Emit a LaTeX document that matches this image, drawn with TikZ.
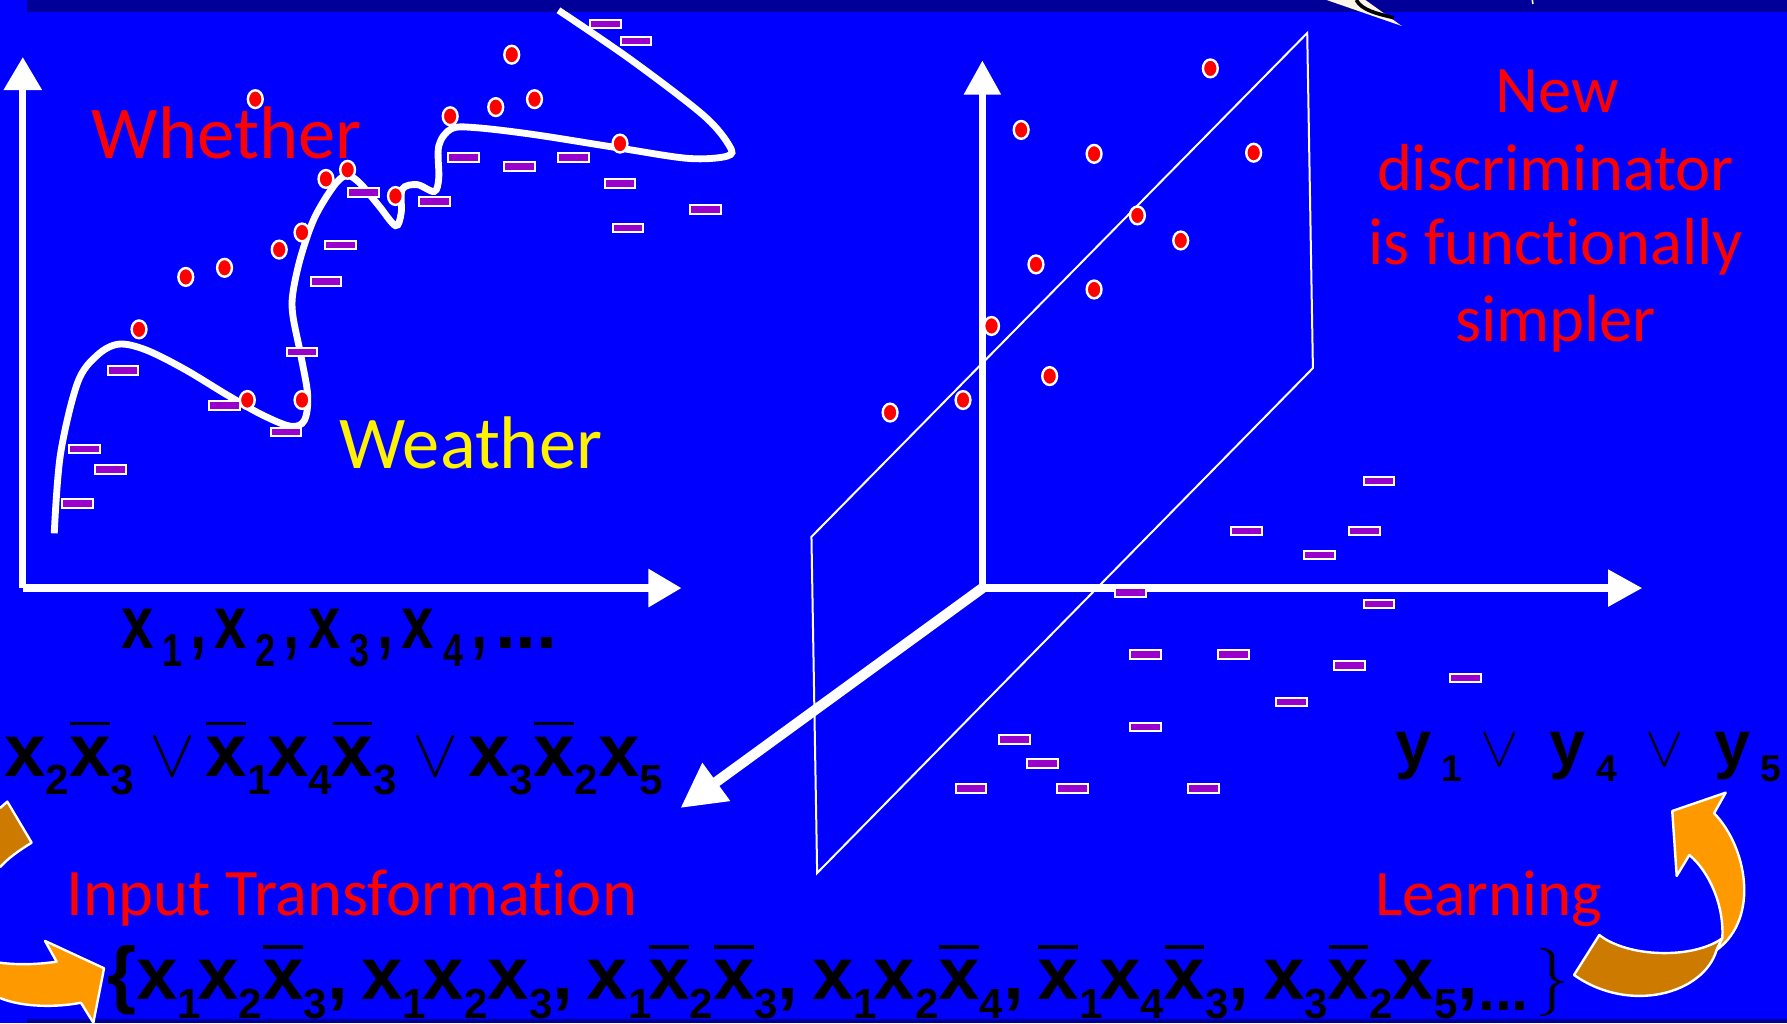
\documentclass[tikz,border=0pt]{standalone}
\usepackage{fontspec}
\usetikzlibrary{arrows.meta}

\newfontfamily\handfont[Ligatures=NoCommon]{Carlito}
\newfontfamily\formfont{Liberation Sans}
\newfontfamily\narrowfont[FakeStretch=0.78]{Liberation Sans}

\definecolor{bgblue}{HTML}{0000FF}
\definecolor{bandnavy}{HTML}{000099}
\definecolor{dotred}{HTML}{FF0000}
\definecolor{boxviolet}{HTML}{9900CC}
\definecolor{orangelight}{HTML}{FF9900}
\definecolor{orangedark}{HTML}{CC7A00}
\definecolor{quillcream}{HTML}{FDF5E6}

% literals: x_i, negated x_i, separators
\newcommand{\subsz}{\fontsize{10.5}{11}\selectfont}
\newcommand{\xs}[1]{x\lower0.165cm\hbox{\subsz #1}\ifnum#1=1 \kern-0.03cm\fi}
\newcommand{\xb}[1]{\rlap{\kern0.005cm\raisebox{0.446cm}{\rule{0.35cm}{0.029cm}}}\xs{#1}}
\newcommand{\xn}[1]{x\kern0.08cm\lower0.16cm\hbox{\fontsize{11.5}{12}\selectfont#1}\kern0.07cm,\kern0.07cm}
\newcommand{\ys}[1]{y\kern0.09cm\lower0.134cm\hbox{\fontsize{9.3}{10}\selectfont#1}}
\newcommand{\orsym}{\kern0.134cm{\fontsize{17.28}{18}\selectfont$\vee$}\kern0.09cm}
\newcommand{\ysym}{{\fontsize{14.4}{15}\selectfont$\vee$}}

\begin{document}
\begin{tikzpicture}[
  x=1cm,
  y=-1cm,
  axis/.style={draw=white,line width=0.065cm,-{Triangle[length=0.29cm,width=0.32cm]}},
  depthaxis/.style={draw=white,line width=0.09cm,-{Triangle[length=0.39cm,width=0.39cm]}},
  plane/.style={draw=white,line width=0.5pt},
  boundary/.style={draw=white,line width=0.06cm},
  posdot/.style={fill=dotred,draw=white,line width=0.6pt,x radius=0.065cm,y radius=0.078cm},
  negbox/.style={fill=boxviolet,draw=white,line width=0.5pt},
  ribbon/.style={draw=white,line width=0.6pt,line join=round},
  handlabel/.style={font=\handfont\fontsize{16.6}{19}\selectfont,text=red,inner sep=0},
  biglabel/.style={font=\handfont\fontsize{18.6}{21}\selectfont,inner sep=0},
  formula/.style={font=\formfont\bfseries\fontsize{18.6}{20}\selectfont,text=black,inner sep=0}
]
\useasboundingbox (0,0) rectangle (15.68,8.98);

% Slide background
\fill[bgblue] (0,0) rectangle (15.68,8.98);
\fill[bandnavy] (0.24,0) rectangle (15.68,0.105);
\fill[bandnavy] (0.24,8.944) rectangle (15.68,8.98);
\fill[quillcream] (11.64,0) -- (12.30,0.228) -- (11.98,0) -- cycle;
\draw[black,line width=0.9pt] (11.90,0) .. controls (11.95,0.09) and (12.08,0.12) .. (12.23,0.155);
\draw[white,line width=0.4pt] (13.445,0) -- (13.45,0.035);

% Original space: axes
\coordinate (origA) at (0.20,5.16);
\coordinate (yTipA) at (0.20,0.50);
\coordinate (xTipA) at (5.98,5.16);
\draw[axis] (origA) -- (yTipA);
\draw[axis] (origA) -- (xTipA);

% Discriminator in the original space
\draw[boundary,smooth,tension=0.55] plot coordinates {
  (0.476,4.68) (0.53,3.99) (0.68,3.36) (0.85,3.12) (1.04,3.02) (1.28,3.07)
  (1.62,3.24) (2.00,3.47) (2.30,3.64) (2.55,3.74) (2.67,3.69) (2.70,3.47)
  (2.64,3.12) (2.57,2.77) (2.57,2.57) (2.64,2.25) (2.76,1.91) (2.93,1.63)
  (3.04,1.54) (3.15,1.60) (3.32,1.80) (3.47,1.98) (3.52,1.87) (3.53,1.66)
  (3.66,1.62) (3.81,1.68) (3.85,1.56) (3.85,1.28) (3.96,1.13) (4.17,1.12)
  (4.68,1.18) (5.44,1.30) (6.04,1.39) (6.38,1.37) (6.40,1.28) (6.17,1.01)
  (5.53,0.52) (4.90,0.09)};

% Negative examples, original space
\draw[negbox] (5.31,0.21) +(-0.135,-0.038) rectangle +(0.135,0.038);
\draw[negbox] (5.58,0.36) +(-0.135,-0.038) rectangle +(0.135,0.038);
\draw[negbox] (4.07,1.38) +(-0.135,-0.038) rectangle +(0.135,0.038);
\draw[negbox] (4.56,1.46) +(-0.135,-0.038) rectangle +(0.135,0.038);
\draw[negbox] (5.03,1.38) +(-0.135,-0.038) rectangle +(0.135,0.038);
\draw[negbox] (5.44,1.61) +(-0.135,-0.038) rectangle +(0.135,0.038);
\draw[negbox] (6.19,1.84) +(-0.135,-0.038) rectangle +(0.135,0.038);
\draw[negbox] (5.51,2.00) +(-0.135,-0.038) rectangle +(0.135,0.038);
\draw[negbox] (3.19,1.69) +(-0.135,-0.038) rectangle +(0.135,0.038);
\draw[negbox] (3.81,1.77) +(-0.135,-0.038) rectangle +(0.135,0.038);
\draw[negbox] (2.99,2.15) +(-0.135,-0.038) rectangle +(0.135,0.038);
\draw[negbox] (2.86,2.47) +(-0.135,-0.038) rectangle +(0.135,0.038);
\draw[negbox] (2.65,3.09) +(-0.135,-0.038) rectangle +(0.135,0.038);
\draw[negbox] (1.08,3.25) +(-0.135,-0.038) rectangle +(0.135,0.038);
\draw[negbox] (1.97,3.56) +(-0.135,-0.038) rectangle +(0.135,0.038);
\draw[negbox] (2.51,3.79) +(-0.135,-0.038) rectangle +(0.135,0.038);
\draw[negbox] (0.74,3.94) +(-0.135,-0.038) rectangle +(0.135,0.038);
\draw[negbox] (0.97,4.12) +(-0.135,-0.038) rectangle +(0.135,0.038);
\draw[negbox] (0.68,4.42) +(-0.135,-0.038) rectangle +(0.135,0.038);

% Labels, original space
\node[biglabel,text=red,anchor=base west] (whether) at (0.80,1.387) {Whether};
\node[biglabel,text=yellow,anchor=base west] (weather) at (2.97,4.11) {Weather};

% Positive examples, original space
\path[posdot] (2.24,0.87) ellipse[];
\path[posdot] (4.49,0.48) ellipse[];
\path[posdot] (4.35,0.94) ellipse[];
\path[posdot] (4.69,0.87) ellipse[];
\path[posdot] (3.95,1.02) ellipse[];
\path[posdot] (5.44,1.26) ellipse[];
\path[posdot] (2.86,1.57) ellipse[];
\path[posdot] (3.05,1.49) ellipse[];
\path[posdot] (3.47,1.72) ellipse[];
\path[posdot] (2.65,2.04) ellipse[];
\path[posdot] (2.45,2.19) ellipse[];
\path[posdot] (1.97,2.35) ellipse[];
\path[posdot] (1.63,2.43) ellipse[];
\path[posdot] (1.22,2.89) ellipse[];
\path[posdot] (2.17,3.51) ellipse[];
\path[posdot] (2.65,3.51) ellipse[];

% New feature space: plane and axes
\draw[plane] (7.12,4.71) -- (11.47,0.29) -- (11.52,3.23) -- (7.17,7.66) -- cycle;
\coordinate (origB) at (8.62,5.16);
\coordinate (yTipB) at (8.62,0.53);
\coordinate (xTipB) at (14.41,5.16);
\coordinate (zTipB) at (5.97,7.09);
\draw[axis,-{Triangle[length=0.30cm,width=0.31cm]}] (origB) -- (yTipB);
\draw[axis,-{Triangle[length=0.30cm,width=0.31cm]}] (origB) -- (xTipB);
\draw[depthaxis] (origB) -- (zTipB);

% Positive examples, new space
\path[posdot] (10.62,0.60) ellipse[];
\path[posdot] (8.96,1.14) ellipse[];
\path[posdot] (9.60,1.35) ellipse[];
\path[posdot] (11.00,1.34) ellipse[];
\path[posdot] (9.98,1.89) ellipse[];
\path[posdot] (10.36,2.11) ellipse[];
\path[posdot] (9.09,2.32) ellipse[];
\path[posdot] (9.60,2.54) ellipse[];
\path[posdot] (8.70,2.86) ellipse[];
\path[posdot] (9.21,3.30) ellipse[];
\path[posdot] (8.45,3.51) ellipse[];
\path[posdot] (7.81,3.62) ellipse[];

% Negative examples, new space
\draw[negbox] (12.10,4.22) +(-0.135,-0.038) rectangle +(0.135,0.038);
\draw[negbox] (10.94,4.66) +(-0.135,-0.038) rectangle +(0.135,0.038);
\draw[negbox] (11.58,4.87) +(-0.135,-0.038) rectangle +(0.135,0.038);
\draw[negbox] (11.97,4.66) +(-0.135,-0.038) rectangle +(0.135,0.038);
\draw[negbox] (9.92,5.20) +(-0.135,-0.038) rectangle +(0.135,0.038);
\draw[negbox] (12.10,5.30) +(-0.135,-0.038) rectangle +(0.135,0.038);
\draw[negbox] (10.05,5.74) +(-0.135,-0.038) rectangle +(0.135,0.038);
\draw[negbox] (10.82,5.74) +(-0.135,-0.038) rectangle +(0.135,0.038);
\draw[negbox] (11.84,5.84) +(-0.135,-0.038) rectangle +(0.135,0.038);
\draw[negbox] (12.86,5.95) +(-0.135,-0.038) rectangle +(0.135,0.038);
\draw[negbox] (11.33,6.16) +(-0.135,-0.038) rectangle +(0.135,0.038);
\draw[negbox] (10.05,6.38) +(-0.135,-0.038) rectangle +(0.135,0.038);
\draw[negbox] (8.90,6.49) +(-0.135,-0.038) rectangle +(0.135,0.038);
\draw[negbox] (9.15,6.70) +(-0.135,-0.038) rectangle +(0.135,0.038);
\draw[negbox] (8.52,6.92) +(-0.135,-0.038) rectangle +(0.135,0.038);
\draw[negbox] (9.41,6.92) +(-0.135,-0.038) rectangle +(0.135,0.038);
\draw[negbox] (10.56,6.92) +(-0.135,-0.038) rectangle +(0.135,0.038);

% Right-hand caption
\node[handlabel,anchor=base] (discA) at (13.66,0.99) {New};
\node[handlabel,anchor=base] (discB) at (13.65,1.67) {discriminator};
\node[handlabel,anchor=base] (discC) at (13.65,2.32) {is functionally};
\node[handlabel,anchor=base] (discD) at (13.65,3.00) {simpler};

% Formulas
\node[formula,font=\narrowfont\bfseries\fontsize{18.6}{20}\selectfont,anchor=base west] (vars)
  at (1.055,5.69) {\xn1\xn2\xn3\xn4{\formfont...}};
\node[formula,anchor=base west] (conj) at (0.032,6.81)
  {\xs2\xb3\orsym\xb1\xs4\xb3\orsym\xs3\xb2\xs5};
\node[formula,font=\formfont\bfseries\fontsize{16.2}{18}\selectfont,anchor=base west] (disj)
  at (12.235,6.724)
  {\ys1\kern0.163cm\ysym\kern0.269cm\ys4\kern0.251cm\ysym\kern0.266cm\ys5};
\node[formula,anchor=base west] (terms) at (0.932,8.77)
  {\{\xs1\xs2\xb3,\kern0.12cm\xs1\xs2\xs3,\kern0.12cm\xs1\xb2\xb3,\kern0.12cm\xs1\xs2\xb4,\kern0.12cm\xb1\xs4\xb3,\kern0.12cm\xs3\xb2\xs5,\lower0.1cm\hbox{\fontsize{15}{15}\selectfont...}\kern0.06cm{\rmfamily\mdseries\fontsize{17}{17}\selectfont\}}};

\node[handlabel,anchor=base west] (transform) at (0.58,8.03) {Input Transformation};
\node[handlabel,font=\handfont\fontsize{16.2}{19}\selectfont,anchor=base west] (learning) at (12.06,8.03) {Learning};

% Curved arrows
\fill[orangedark] (0,7.09) -- (0.064,7.034) -- (0.278,7.394)
  .. controls (0.17,7.46) and (0.07,7.53) .. (0,7.61) -- cycle;
\draw[ribbon] (0,7.09) -- (0.064,7.034) -- (0.278,7.394)
  .. controls (0.17,7.46) and (0.07,7.53) .. (0,7.61);

\fill[orangelight] (0,8.447) .. controls (0.17,8.47) and (0.35,8.46) .. (0.497,8.438)
  -- (0.395,8.256) -- (0.913,8.496) -- (0.819,8.974) -- (0.71,8.798)
  .. controls (0.5,8.84) and (0.2,8.84) .. (0,8.757) -- cycle;
\draw[ribbon] (0,8.447) .. controls (0.17,8.47) and (0.35,8.46) .. (0.497,8.438)
  -- (0.395,8.256) -- (0.913,8.496) -- (0.819,8.974) -- (0.71,8.798)
  .. controls (0.5,8.84) and (0.2,8.84) .. (0,8.757);

\draw[ribbon,fill=orangedark] (14.033,8.204) .. controls (14.28,8.40) and (14.85,8.42) .. (15.112,8.233)
  -- (15.062,8.336) .. controls (14.95,8.72) and (14.3,8.90) .. (13.811,8.555) -- cycle;
\draw[ribbon,fill=orangelight] (15.142,6.955) -- (15.04,7.136)
  .. controls (15.32,7.42) and (15.45,8.05) .. (15.062,8.336) -- (15.112,8.233)
  .. controls (15.13,7.95) and (15.0,7.65) .. (14.823,7.502)
  -- (14.712,7.686) -- (14.673,7.116) -- cycle;

\end{tikzpicture}
\end{document}
